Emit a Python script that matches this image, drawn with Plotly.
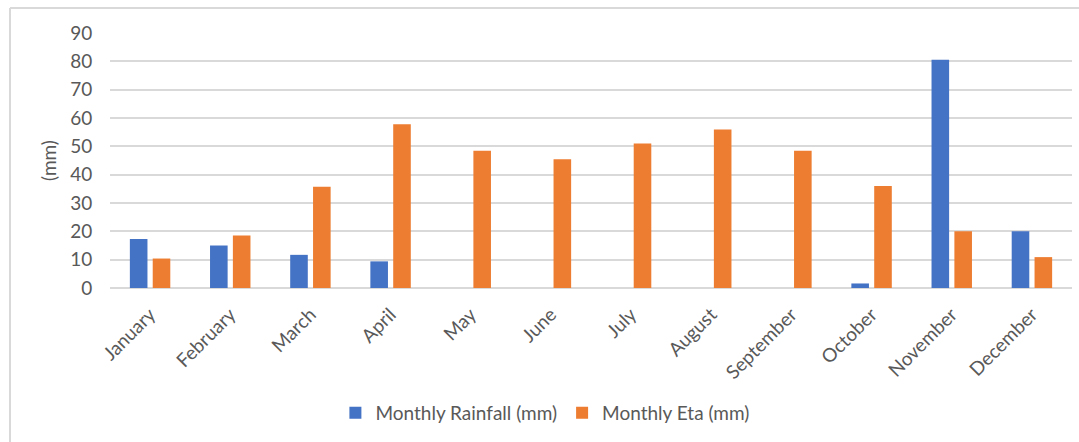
import plotly.graph_objects as go

months = ["January", "February", "March", "April", "May", "June", "July",
          "August", "September", "October", "November", "December"]
rainfall = [17.3, 15.0, 11.7, 9.4, 0, 0, 0, 0, 0, 1.6, 80.6, 20.0]
eta = [10.4, 18.5, 35.7, 57.8, 48.4, 45.4, 51.0, 55.9, 48.4, 36.0, 20.0, 10.9]

W, H = 1079, 442
L, R, T, B = 110, 7, 33, 154
pw = W - L - R
ph = H - T - B

FONT = "Lato"
GREY = "#595959"

fig = go.Figure()
fig.add_trace(go.Bar(x=months, y=rainfall, name="Monthly Rainfall (mm)",
                     marker=dict(color="#4472C4", line=dict(width=0))))
fig.add_trace(go.Bar(x=months, y=eta, name="Monthly Eta (mm)",
                     marker=dict(color="#ED7D31", line=dict(width=0))))

fig.update_layout(
    width=W, height=H,
    margin=dict(l=L, r=R, t=T, b=B, pad=0),
    paper_bgcolor="white", plot_bgcolor="white",
    barmode="group", bargap=0.43, bargroupgap=0.23,
    font=dict(family=FONT, size=19, color=GREY),
    showlegend=True,
    legend=dict(orientation="h", xref="container", yref="container",
                x=0.505, xanchor="center", y=0.066, yanchor="middle",
                font=dict(family=FONT, size=19, color=GREY),
                itemwidth=30, traceorder="normal"),
    xaxis=dict(tickangle=-45, showgrid=False, showline=False, zeroline=False,
               tickfont=dict(family=FONT, size=19, color=GREY),
               ticks="outside", ticklen=7, tickcolor="rgba(0,0,0,0)"),
    yaxis=dict(range=[0, 90], dtick=10, showgrid=True, gridcolor="#D9D9D9",
               gridwidth=1.5, zeroline=True, zerolinecolor="#D9D9D9",
               zerolinewidth=1.5, showline=False,
               tickfont=dict(family=FONT, size=19, color=GREY),
               ticks="outside", ticklen=13, tickcolor="rgba(0,0,0,0)",
               title=dict(text="(mm)", font=dict(family=FONT, size=19, color=GREY),
                          standoff=8)),
)

# outer chart border (left and top edges visible)
x_left = (10 - L) / pw
y_top = (H - B - 8) / ph
fig.add_shape(type="line", xref="paper", yref="paper",
              x0=x_left, x1=(W + 5 - L) / pw, y0=y_top, y1=y_top,
              line=dict(color="#D9D9D9", width=2))
fig.add_shape(type="line", xref="paper", yref="paper",
              x0=x_left, x1=x_left, y0=y_top, y1=-(B + 5) / ph,
              line=dict(color="#D9D9D9", width=2))

fig.write_html("out.html")
